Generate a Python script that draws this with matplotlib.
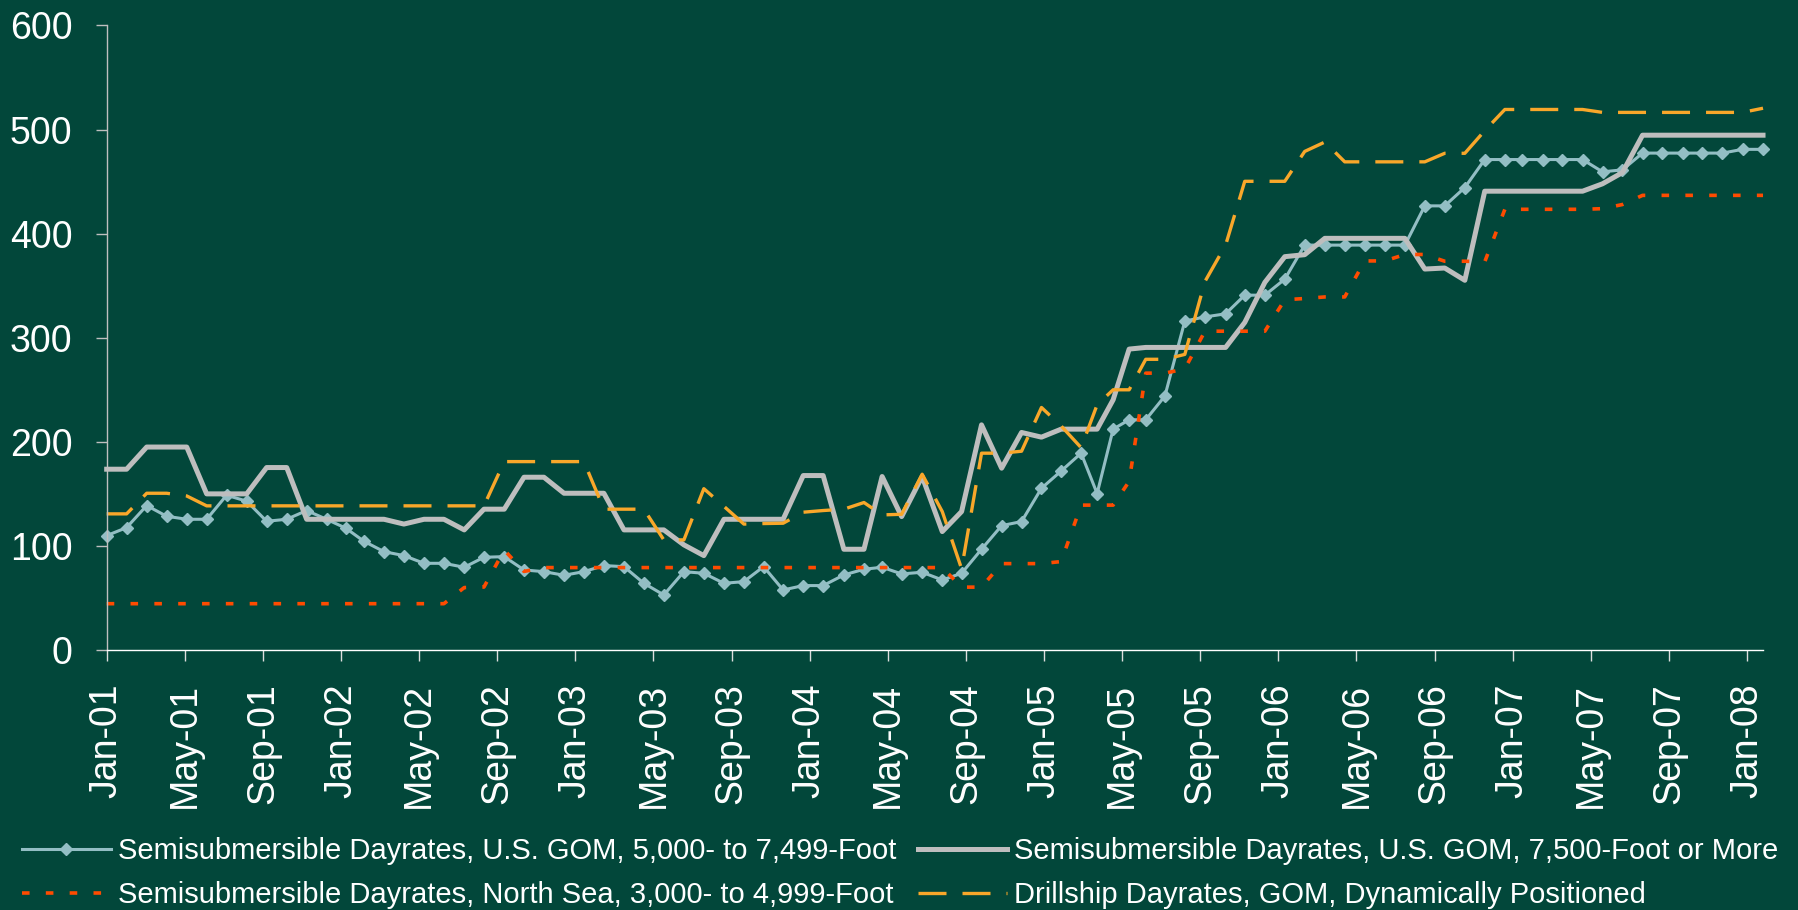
import matplotlib
matplotlib.use('Agg')
import matplotlib.pyplot as plt

months = [0.0, 1.02, 2.05, 3.07, 4.10, 5.12, 6.14, 7.17, 8.19, 9.22,
          10.24, 11.26, 12.25, 13.17, 14.20, 15.22, 16.25, 17.27, 18.31, 19.32,
          20.36, 21.37, 22.39, 23.42, 24.44, 25.46, 26.49, 27.51, 28.53, 29.56,
          30.58, 31.61, 32.63, 33.64, 34.64, 35.67, 36.69, 37.75, 38.78, 39.71,
          40.71, 41.76, 42.79, 43.78, 44.80, 45.83, 46.85, 47.87, 48.88, 49.90,
          50.72, 51.54, 52.36, 53.21, 54.19, 55.21, 56.24, 57.30, 58.28, 59.31,
          60.33, 61.35, 62.38, 63.40, 64.42, 65.45, 66.48, 67.50, 68.52, 69.55,
          70.57, 71.60, 72.50, 73.53, 74.55, 75.58, 76.60, 77.62, 78.65, 79.67,
          80.70, 81.72, 82.74, 83.77, 84.82]

semi_5000 = [109.9, 117.6, 138.8, 128.5, 125.6, 125.6, 148.7, 143.0, 123.7, 125.6,
             134.0, 125.6, 117.0, 104.5, 94.5, 90.7, 83.3, 83.3, 79.5, 89.1,
             89.7, 76.9, 75.3, 71.8, 75.3, 81.1, 80.1, 64.1, 52.9, 75.3,
             73.7, 64.1, 65.7, 80.1, 57.7, 61.9, 61.9, 72.1, 77.6, 79.5,
             73.1, 74.7, 67.3, 73.7, 96.8, 119.5, 123.4, 155.4, 172.0, 189.1,
             150.3, 212.2, 221.2, 221.2, 244.0, 316.0, 320.0, 323.0, 340.9, 340.9,
             356.3, 389.0, 389.0, 389.0, 389.0, 389.0, 389.0, 426.7, 426.7, 444.3,
             471.2, 471.2, 471.2, 471.2, 471.2, 471.2, 459.4, 461.3, 477.4, 477.4,
             477.4, 477.4, 477.4, 481.0, 481.0]

semi_7500 = [173.7, 173.7, 195.0, 195.0, 195.0, 150.0, 150.0, 150.0, 175.3, 175.3,
             125.6, 125.6, 125.6, 125.6, 125.6, 121.0, 125.6, 125.6, 115.4, 135.3,
             135.3, 166.0, 166.0, 150.6, 150.6, 150.6, 115.4, 115.4, 115.4, 101.0,
             90.7, 125.6, 125.6, 125.6, 125.6, 167.6, 167.6, 96.8, 96.8, 166.7,
             128.2, 166.7, 113.8, 133.0, 216.3, 174.7, 209.0, 204.5, 212.2, 212.2,
             212.2, 240.4, 289.1, 290.7, 290.7, 290.7, 290.7, 290.7, 314.7, 353.2,
             377.9, 379.8, 395.5, 395.5, 395.5, 395.5, 395.5, 366.0, 367.0, 355.2,
             440.8, 440.8, 440.8, 440.8, 440.8, 440.8, 447.9, 458.7, 494.6, 494.6,
             494.6, 494.6, 494.6, 494.6, 494.6]

north_sea = [44.5, 44.5, 44.5, 44.5, 44.5, 44.5, 44.5, 44.5, 44.5, 44.5,
             44.5, 44.5, 44.5, 44.5, 44.5, 44.5, 44.5, 44.5, 60.0, 60.5,
             96.0, 75.5, 79.2, 79.2, 79.2, 79.2, 79.2, 79.2, 79.2, 79.2,
             79.2, 79.2, 79.2, 79.2, 79.2, 79.2, 79.2, 79.2, 79.2, 79.2,
             79.2, 79.2, 79.2, 60.4, 60.4, 83.0, 83.0, 83.0, 85.0, 139.2,
             139.2, 139.2, 162.0, 266.0, 266.0, 270.0, 306.3, 306.3, 306.3, 306.3,
             336.5, 337.7, 339.2, 339.2, 373.8, 373.8, 380.0, 380.0, 373.5, 373.5,
             373.0, 423.4, 423.4, 423.4, 423.4, 423.4, 424.0, 428.0, 436.8, 436.8,
             436.8, 436.8, 436.8, 436.8, 436.8]

drillship = [130.8, 130.8, 150.6, 150.6, 148.0, 138.5, 138.5, 138.5, 138.5, 138.5,
             138.5, 138.5, 138.5, 138.5, 138.5, 138.5, 138.5, 138.5, 138.5, 138.5,
             181.0, 181.0, 181.0, 181.0, 181.0, 135.3, 135.3, 135.3, 105.8, 105.8,
             155.0, 138.0, 121.0, 121.5, 121.8, 132.4, 134.0, 135.3, 141.7, 129.8,
             130.4, 168.9, 133.0, 78.0, 189.1, 189.1, 191.0, 233.0, 215.2, 194.4,
             235.6, 250.0, 250.0, 279.3, 279.3, 284.0, 354.0, 389.0, 450.3, 450.3,
             450.3, 479.0, 488.0, 469.0, 469.0, 469.0, 469.0, 469.0, 477.2, 477.2,
             499.0, 519.3, 519.3, 519.3, 519.3, 519.3, 516.5, 516.5, 516.5, 516.5,
             516.5, 516.5, 516.5, 516.5, 520.5]

tick_labels = ['Jan-01', 'May-01', 'Sep-01', 'Jan-02', 'May-02', 'Sep-02',
               'Jan-03', 'May-03', 'Sep-03', 'Jan-04', 'May-04', 'Sep-04',
               'Jan-05', 'May-05', 'Sep-05', 'Jan-06', 'May-06', 'Sep-06',
               'Jan-07', 'May-07', 'Sep-07', 'Jan-08']

labels = ['Semisubmersible Dayrates, U.S. GOM, 5,000- to 7,499-Foot',
          'Semisubmersible Dayrates, U.S. GOM, 7,500-Foot or More',
          'Semisubmersible Dayrates, North Sea, 3,000- to 4,999-Foot',
          'Drillship Dayrates, GOM, Dynamically Positioned']

plt.rcParams['font.family'] = ['Liberation Sans', 'DejaVu Sans']

bg = '#02473a'
fig = plt.figure(figsize=(17.99, 9.10), dpi=100, facecolor=bg)
ax = fig.add_axes([0.0593, 0.2857, 0.9207, 0.6863], facecolor=bg)

l1, = ax.plot(months, semi_5000, color='#93bec4', lw=2.2, marker='D', ms=5.8,
              clip_on=False, label=labels[0])
l2, = ax.plot(months, semi_7500, color='#bebebe', lw=3.6, solid_joinstyle='round',
              clip_on=False, label=labels[1])
l3, = ax.plot(months, north_sea, color='#ff4b00', lw=2.6, dashes=(2.1, 4.5),
              clip_on=False, label=labels[2])
l4, = ax.plot(months, drillship, color='#f9a72a', lw=2.4, dashes=(8.4, 4.8),
              clip_on=False, label=labels[3])

ax.set_xlim(0, months[-1])
ax.set_ylim(0, 600)
ax.set_yticks(range(0, 601, 100))
ax.set_xticks(range(0, 85, 4))
ax.set_xticklabels(tick_labels, rotation=90)

for s in ['top', 'right']:
    ax.spines[s].set_visible(False)
ax.spines['left'].set_color('#bfbfbf')
ax.spines['bottom'].set_color('#ffffff')
ax.spines['left'].set_linewidth(1.0)
ax.spines['bottom'].set_linewidth(1.0)

ax.tick_params(axis='y', length=8, width=1, color='#bfbfbf', labelcolor='white',
               labelsize=27, pad=16.5)
ax.tick_params(axis='x', length=8, width=1, color='#dddddd', labelcolor='white',
               labelsize=27, pad=16)

leg = fig.legend(handles=[l1, l3, l2, l4], ncol=2, loc='upper left',
                 bbox_to_anchor=(0.012, 0.080), frameon=False, fontsize=21,
                 handlelength=3.05, handletextpad=0.25, columnspacing=0.75,
                 labelspacing=0.54, borderpad=0, borderaxespad=0)
for t in leg.get_texts():
    t.set_color('white')

fig.savefig('out.png', dpi=100, facecolor=bg)
